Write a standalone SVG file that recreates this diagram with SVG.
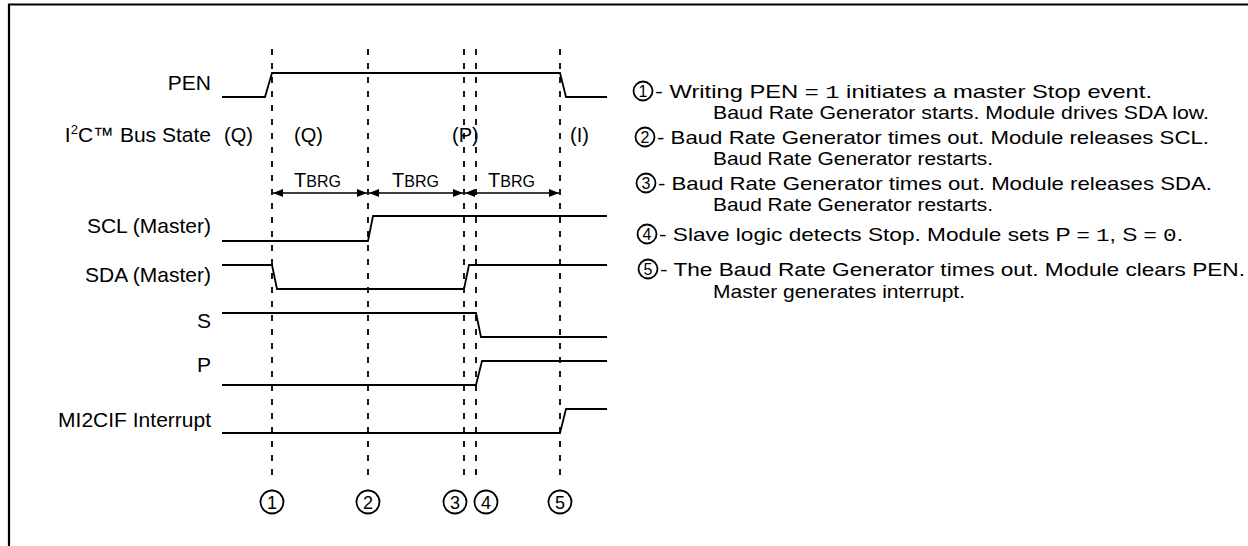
<svg xmlns="http://www.w3.org/2000/svg" width="1248" height="546" viewBox="0 0 1248 546">
<defs>
<style>
text{font-family:"Liberation Sans",Arial,sans-serif;fill:#000}
.lbl{font-size:21px;text-anchor:end}
.st{font-size:20px}
.note{font-size:19px}
.mono{font-family:"Liberation Mono","Courier New",monospace}
.sig{fill:none;stroke:#000;stroke-width:1.8}
.dash{fill:none;stroke:#000;stroke-width:1.8;stroke-dasharray:6 8}
.arr{fill:none;stroke:#000;stroke-width:1.5}
.circ{fill:none;stroke:#000;stroke-width:1.8}
.cnum{font-size:18px;text-anchor:middle}
.rnum{font-size:16px;text-anchor:middle}
</style>
<marker id="ah" viewBox="0 0 10 8" refX="10" refY="4" markerWidth="10" markerHeight="8" markerUnits="userSpaceOnUse" orient="auto-start-reverse">
<path d="M0,0 L10,4 L0,8 Z" fill="#000"/>
</marker>
</defs>
<rect width="1248" height="546" fill="#fff"/>
<path d="M9,546 V4.5 H1248" fill="none" stroke="#000" stroke-width="2.2"/>

<g id="markers">
<line class="dash" x1="272" y1="49" x2="272" y2="482"/>
<line class="dash" x1="368" y1="49" x2="368" y2="482"/>
<line class="dash" x1="464" y1="49" x2="464" y2="482"/>
<line class="dash" x1="476" y1="49" x2="476" y2="482"/>
<line class="dash" x1="560" y1="49" x2="560" y2="482"/>
</g>

<g id="sig-PEN">
<text class="lbl" x="211" y="90">PEN</text>
<path class="sig" d="M222,97 H265 L272,73 H560 L566,97 H607"/>
</g>

<g id="sig-bus">
<text class="lbl" x="211" y="142">I<tspan font-size="13" dy="-8">2</tspan><tspan dy="8">C™ Bus State</tspan></text>
<text class="st" x="224" y="142">(Q)</text>
<text class="st" x="294" y="142">(Q)</text>
<text class="st" x="452" y="142">(P)</text>
<text class="st" x="570" y="142">(I)</text>
</g>

<g id="connectors">
<line class="arr" x1="273" y1="193" x2="367" y2="193" marker-start="url(#ah)" marker-end="url(#ah)"/>
<line class="arr" x1="369" y1="193" x2="463" y2="193" marker-start="url(#ah)" marker-end="url(#ah)"/>
<line class="arr" x1="465" y1="193" x2="559" y2="193" marker-start="url(#ah)" marker-end="url(#ah)"/>
</g>

<g id="tbrg">
<text x="294" y="187" font-size="20">T<tspan font-size="16">BRG</tspan></text>
<text x="392" y="187" font-size="20">T<tspan font-size="16">BRG</tspan></text>
<text x="488" y="187" font-size="20">T<tspan font-size="16">BRG</tspan></text>
</g>

<g id="sig-SCL">
<text class="lbl" x="211" y="233">SCL (Master)</text>
<path class="sig" d="M222,241 H368 L373,216 H607"/>
</g>

<g id="sig-SDA">
<text class="lbl" x="211" y="282">SDA (Master)</text>
<path class="sig" d="M222,265 H272 L277,289 H464 L469,265 H607"/>
</g>

<g id="sig-S">
<text class="lbl" x="211" y="328">S</text>
<path class="sig" d="M222,313 H476 L481,337 H607"/>
</g>

<g id="sig-P">
<text class="lbl" x="211" y="372">P</text>
<path class="sig" d="M222,385 H476 L482,361 H607"/>
</g>

<g id="sig-MI2CIF">
<text class="lbl" x="211" y="427">MI2CIF Interrupt</text>
<path class="sig" d="M222,433 H560 L566,409 H607"/>
</g>

<g id="evt1"><circle class="circ" cx="272" cy="502" r="11.5"/><text class="cnum" x="272" y="508.5">1</text></g>
<g id="evt2"><circle class="circ" cx="368" cy="502" r="11.5"/><text class="cnum" x="368" y="508.5">2</text></g>
<g id="evt3"><circle class="circ" cx="455" cy="502" r="11.5"/><text class="cnum" x="455" y="508.5">3</text></g>
<g id="evt4"><circle class="circ" cx="486" cy="502" r="11.5"/><text class="cnum" x="486" y="508.5">4</text></g>
<g id="evt5"><circle class="circ" cx="560" cy="502" r="11.5"/><text class="cnum" x="560" y="508.5">5</text></g>

<g id="note1">
<circle class="circ" cx="643" cy="91" r="9.5"/><text class="rnum" x="643" y="97">1</text>
<text class="note" x="655" y="98" textLength="497" lengthAdjust="spacingAndGlyphs">- Writing PEN = <tspan class="mono">1</tspan> initiates a master Stop event.</text>
<text class="note" x="713" y="119" textLength="496" lengthAdjust="spacingAndGlyphs">Baud Rate Generator starts. Module drives SDA low.</text>
</g>
<g id="note2">
<circle class="circ" cx="645" cy="137" r="9.5"/><text class="rnum" x="645" y="143">2</text>
<text class="note" x="657" y="144" textLength="552" lengthAdjust="spacingAndGlyphs">- Baud Rate Generator times out. Module releases SCL.</text>
<text class="note" x="713" y="165" textLength="280" lengthAdjust="spacingAndGlyphs">Baud Rate Generator restarts.</text>
</g>
<g id="note3">
<circle class="circ" cx="646" cy="183" r="9.5"/><text class="rnum" x="646" y="189">3</text>
<text class="note" x="658" y="190" textLength="554" lengthAdjust="spacingAndGlyphs">- Baud Rate Generator times out. Module releases SDA.</text>
<text class="note" x="713" y="211" textLength="280" lengthAdjust="spacingAndGlyphs">Baud Rate Generator restarts.</text>
</g>
<g id="note4">
<circle class="circ" cx="647" cy="234" r="9.5"/><text class="rnum" x="647" y="240">4</text>
<text class="note" x="659" y="241" textLength="524" lengthAdjust="spacingAndGlyphs">- Slave logic detects Stop. Module sets P = <tspan class="mono">1</tspan>, S = <tspan class="mono">0</tspan>.</text>
</g>
<g id="note5">
<circle class="circ" cx="648" cy="269" r="9.5"/><text class="rnum" x="648" y="275">5</text>
<text class="note" x="660" y="276" textLength="585" lengthAdjust="spacingAndGlyphs">- The Baud Rate Generator times out. Module clears PEN.</text>
<text class="note" x="713" y="298" textLength="252" lengthAdjust="spacingAndGlyphs">Master generates interrupt.</text>
</g>
</svg>
